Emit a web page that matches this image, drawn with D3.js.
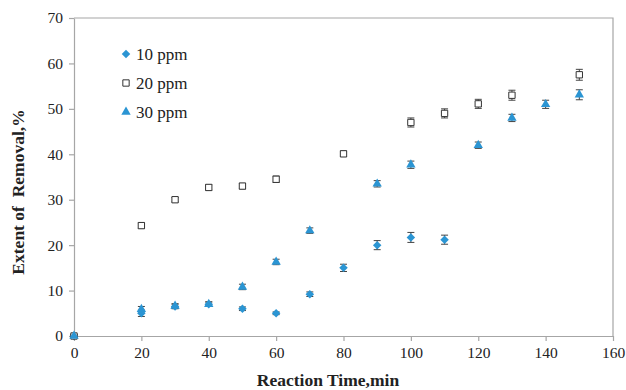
<!DOCTYPE html>
<html lang="en">
<head>
  <meta charset="UTF-8">
  <title>Extent of Removal</title>
  <style>
    body { margin: 0; padding: 0; background: #fff; }
    svg text { font-family: "Liberation Serif", "Times New Roman", serif; fill: #222; }
    .axis path, .axis line { stroke: #a6a6a6; stroke-width: 1.2px; }
    .axis text { font-size: 15.5px; }
    .title { font-size: 17.5px; font-weight: bold; }
    .err { stroke: #444; stroke-width: 1px; }
  </style>
</head>
<body>
<div id="chart"></div>
<script src="https://d3js.org/d3.v7.min.js"></script>
<script>
  // data
  const xTicks = [0, 20, 40, 60, 80, 100, 120, 140, 160];
  const yTicks = [0, 10, 20, 30, 40, 50, 60, 70];

  const time10 = [0, 20, 30, 40, 50, 60, 70, 80, 90, 100, 110];
  const val10  = [0, 5.0, 6.5, 7.0, 6.0, 5.0, 9.2, 15.0, 20.0, 21.7, 21.2];
  const err10  = [0.3, 0.7, 0.5, 0.5, 0.4, 0.3, 0.5, 0.8, 1.0, 1.1, 1.0];

  const time20 = [0, 20, 30, 40, 50, 60, 80, 100, 110, 120, 130, 150];
  const val20  = [0, 24.3, 30.0, 32.7, 33.0, 34.5, 40.1, 47.0, 49.0, 51.1, 53.0, 57.5];
  const err20  = [0.3, 0.6, 0.5, 0.6, 0.6, 0.7, 0.6, 1.0, 1.0, 1.0, 1.1, 1.2];

  const time30 = [0, 20, 30, 40, 50, 60, 70, 90, 100, 120, 130, 140, 150];
  const val30  = [0, 5.9, 6.6, 7.0, 10.8, 16.3, 23.2, 33.5, 37.7, 42.0, 48.0, 51.0, 53.1];
  const err30  = [0.3, 0.6, 0.5, 0.5, 0.6, 0.6, 0.6, 0.7, 0.8, 0.7, 0.8, 0.9, 1.1];

  const labels = ["10 ppm", "20 ppm", "30 ppm"];

  const width = 626, height = 390;
  const margin = { top: 18, right: 13, bottom: 54, left: 74 };
  const blue = "#2b95d3";

  const svg = d3.select("#chart").append("svg")
      .attr("width", width)
      .attr("height", height);

  const x = d3.scaleLinear().domain([0, 160]).range([margin.left, width - margin.right]);
  const y = d3.scaleLinear().domain([0, 70]).range([height - margin.bottom, margin.top]);

  // square-ish diamond (rotated square)
  const diamond = {
    draw(ctx, size) {
      const r = Math.sqrt(size / 2);
      ctx.moveTo(0, -r);
      ctx.lineTo(r, 0);
      ctx.lineTo(0, r);
      ctx.lineTo(-r, 0);
      ctx.closePath();
    }
  };

  // frame top and right
  svg.append("path")
      .attr("d", `M${x(0)},${y(70)}H${x(160)}V${y(0)}`)
      .attr("fill", "none")
      .attr("stroke", "#a6a6a6")
      .attr("stroke-width", 1.2);

  svg.append("g")
      .attr("class", "axis")
      .attr("transform", `translate(0,${y(0)})`)
      .call(d3.axisBottom(x).tickValues(xTicks).tickSize(5).tickSizeOuter(0).tickPadding(6));

  svg.append("g")
      .attr("class", "axis")
      .attr("transform", `translate(${x(0)},0)`)
      .call(d3.axisLeft(y).tickValues(yTicks).tickSize(5).tickSizeOuter(0).tickPadding(6));

  svg.append("text")
      .attr("class", "title")
      .attr("x", 328)
      .attr("y", 386)
      .attr("text-anchor", "middle")
      .text("Reaction Time,min");

  svg.append("text")
      .attr("class", "title")
      .attr("transform", "translate(24,192) rotate(-90)")
      .attr("text-anchor", "middle")
      .attr("xml:space", "preserve")
      .text("Extent of  Removal,%");

  const series = [
    { t: time10, v: val10, e: err10, shape: diamond, size: 36, fill: blue, stroke: "none" },
    { t: time20, v: val20, e: err20, shape: d3.symbolSquare, size: 40, fill: "#fff", stroke: "#333" },
    { t: time30, v: val30, e: err30, shape: d3.symbolTriangle, size: 38, fill: blue, stroke: "none" }
  ];

  // error bars first, then markers
  series.forEach(s => {
    const rows = s.t.map((t, i) => ({ t, v: s.v[i], e: s.e[i] }));
    svg.append("g").selectAll("path.err")
        .data(rows)
        .enter()
        .append("path")
        .attr("class", "err")
        .attr("fill", "none")
        .attr("d", d => {
          const cx = x(d.t), y1 = y(d.v + d.e), y2 = y(d.v - d.e);
          return `M${cx - 3.5},${y1}H${cx + 3.5}M${cx},${y1}V${y2}M${cx - 3.5},${y2}H${cx + 3.5}`;
        });
  });

  series.forEach(s => {
    const rows = s.t.map((t, i) => ({ t, v: s.v[i] }));
    svg.append("g").selectAll("path.pt")
        .data(rows)
        .enter()
        .append("path")
        .attr("class", "pt")
        .attr("transform", d => `translate(${x(d.t)},${y(d.v)})`)
        .attr("d", d3.symbol().type(s.shape).size(s.size))
        .attr("fill", s.fill)
        .attr("stroke", s.stroke)
        .attr("stroke-width", 1);
  });

  // legend
  const legend = svg.append("g").attr("transform", "translate(126,54)");
  series.forEach((s, i) => {
    const row = legend.append("g").attr("transform", `translate(0,${i * 29})`);
    row.append("path")
        .attr("d", d3.symbol().type(s.shape).size(s.size))
        .attr("fill", s.fill)
        .attr("stroke", s.stroke);
    row.append("text")
        .attr("x", 10)
        .attr("y", 6)
        .style("font-size", "17px")
        .text(labels[i]);
  });
</script>
</body>
</html>
